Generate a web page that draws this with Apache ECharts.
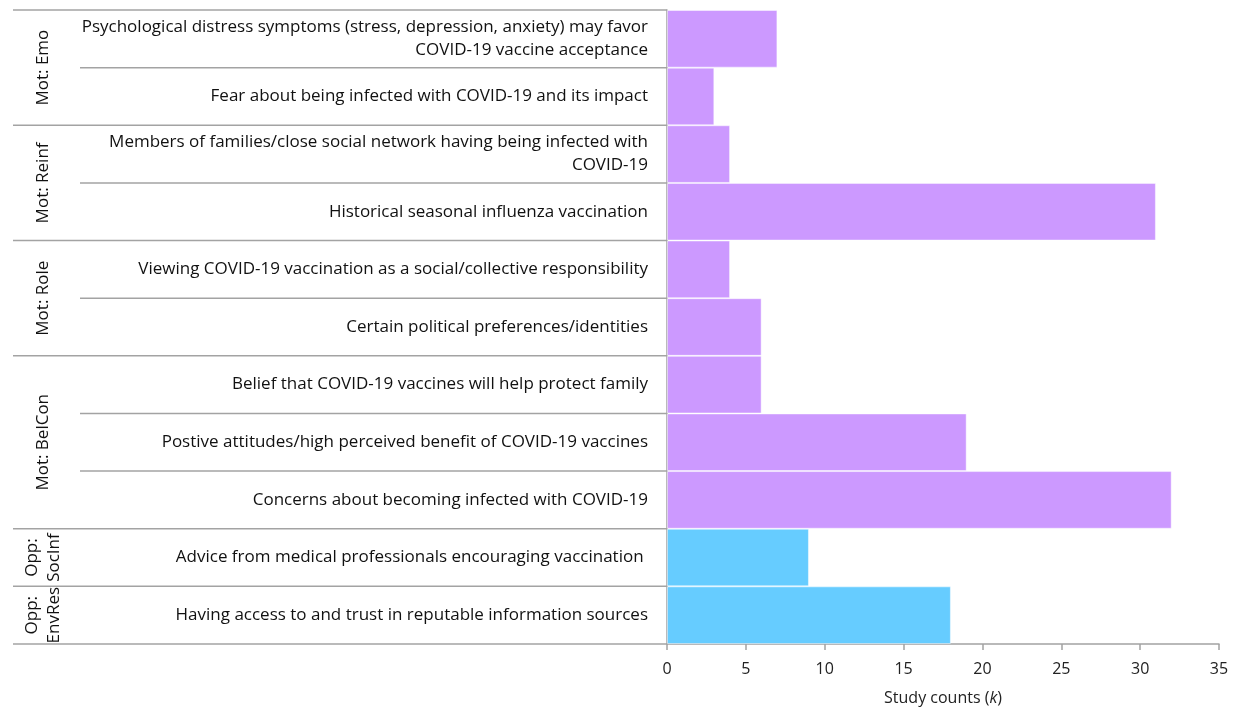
<!DOCTYPE html>
<html>
<head>
<meta charset="utf-8">
<script src="https://cdn.jsdelivr.net/npm/echarts@6/dist/echarts.min.js"></script>
<style>
  html, body { margin: 0; padding: 0; background: #fff; }
  #chart { width: 1237px; height: 707px; }
</style>
</head>
<body>
<div id="chart"></div>
<script>
// rows from top to bottom
const factors = [
  "Psychological distress symptoms (stress, depression, anxiety) may favor\nCOVID-19 vaccine acceptance",
  "Fear about being infected with COVID-19 and its impact",
  "Members of families/close social network having being infected with\nCOVID-19",
  "Historical seasonal influenza vaccination",
  "Viewing COVID-19 vaccination as a social/collective responsibility",
  "Certain political preferences/identities",
  "Belief that COVID-19 vaccines will help protect family",
  "Postive attitudes/high perceived benefit of COVID-19 vaccines",
  "Concerns about becoming infected with COVID-19",
  "Advice from medical professionals encouraging vaccination ",
  "Having access to and trust in reputable information sources"
];
const studyCounts = [7, 3, 4, 31, 4, 6, 6, 19, 32, 9, 18];

const groupNames = ["Mot: Emo", "Mot: Reinf", "Mot: Role", "Mot: BelCon", "Opp:\nSocInf", "Opp:\nEnvRes"];
const groupSizes = [2, 2, 2, 3, 1, 1];

const xTicks = { min: 0, max: 35, interval: 5 };

const PURPLE = "#CC99FF";
const BLUE = "#66CCFF";
const LINE = "#A3A3A3";
const FONT = "Open Sans";
const FS = 17;

// which group each row belongs to
const rowGroup = [];
groupSizes.forEach((n, g) => { for (let i = 0; i < n; i++) rowGroup.push(g); });

const chart = echarts.init(document.getElementById("chart"));

chart.setOption({
  animation: false,
  textStyle: { fontFamily: FONT },
  grid: { left: 667, right: 18, top: 10, bottom: 63, containLabel: false, outerBoundsMode: "none" },
  xAxis: {
    type: "value",
    min: xTicks.min,
    max: xTicks.max,
    interval: xTicks.interval,
    splitLine: { show: false },
    axisLine: { show: true, lineStyle: { color: LINE, width: 1.5 } },
    axisTick: { show: true, length: 6, lineStyle: { color: LINE, width: 1.5 } },
    axisLabel: { color: "#222", fontSize: 16, margin: 17, fontFamily: FONT },
    name: "{n|Study counts (}{k|k}{n|)}",
    nameLocation: "middle",
    nameGap: 46,
    nameTextStyle: {
      rich: {
        n: { fontSize: 16, color: "#222", fontFamily: FONT },
        k: { fontSize: 16, color: "#222", fontStyle: "italic", fontFamily: FONT }
      }
    }
  },
  yAxis: {
    type: "category",
    inverse: true,
    data: factors,
    axisLine: { show: true, lineStyle: { color: LINE, width: 1.5 } },
    axisTick: { show: false },
    axisLabel: {
      color: "#111",
      fontSize: FS,
      lineHeight: 23,
      align: "right",
      margin: 19,
      interval: 0,
      fontFamily: FONT
    }
  },
  series: [{
    type: "bar",
    barCategoryGap: "0%",
    data: studyCounts.map((v, i) => ({
      value: v,
      itemStyle: {
        color: groupNames[rowGroup[i]].startsWith("Opp") ? BLUE : PURPLE,
        borderColor: "rgba(255,255,255,0.45)",
        borderWidth: 1
      }
    }))
  }]
});

// separator lines and rotated group labels in the label area
function drawTable() {
  const c0 = chart.convertToPixel({ yAxisIndex: 0 }, 0);
  const c1 = chart.convertToPixel({ yAxisIndex: 0 }, 1);
  const band = Math.abs(c1 - c0);
  const top = c0 - band / 2;
  const axisX = chart.convertToPixel({ xAxisIndex: 0 }, 0);
  const outerX = 13, innerX = 80, labelX = 43;

  const groupEdges = [0];
  groupSizes.forEach(n => groupEdges.push(groupEdges[groupEdges.length - 1] + n));

  const elements = [];
  for (let b = 0; b <= factors.length; b++) {
    const y = top + b * band;
    const x1 = groupEdges.includes(b) ? outerX : innerX;
    elements.push({
      type: "line",
      shape: { x1: x1, y1: y, x2: axisX, y2: y },
      style: { stroke: LINE, lineWidth: 1.5 },
      silent: true
    });
  }
  groupNames.forEach((name, g) => {
    const yc = top + (groupEdges[g] + groupEdges[g + 1]) / 2 * band;
    elements.push({
      type: "text",
      x: labelX,
      y: yc,
      rotation: Math.PI / 2,
      style: {
        text: name,
        fontSize: FS,
        lineHeight: 22,
        fontFamily: FONT,
        fill: "#111",
        align: "center",
        verticalAlign: "middle"
      },
      silent: true
    });
  });
  chart.setOption({ graphic: { elements: elements } });
}
drawTable();
</script>
</body>
</html>
